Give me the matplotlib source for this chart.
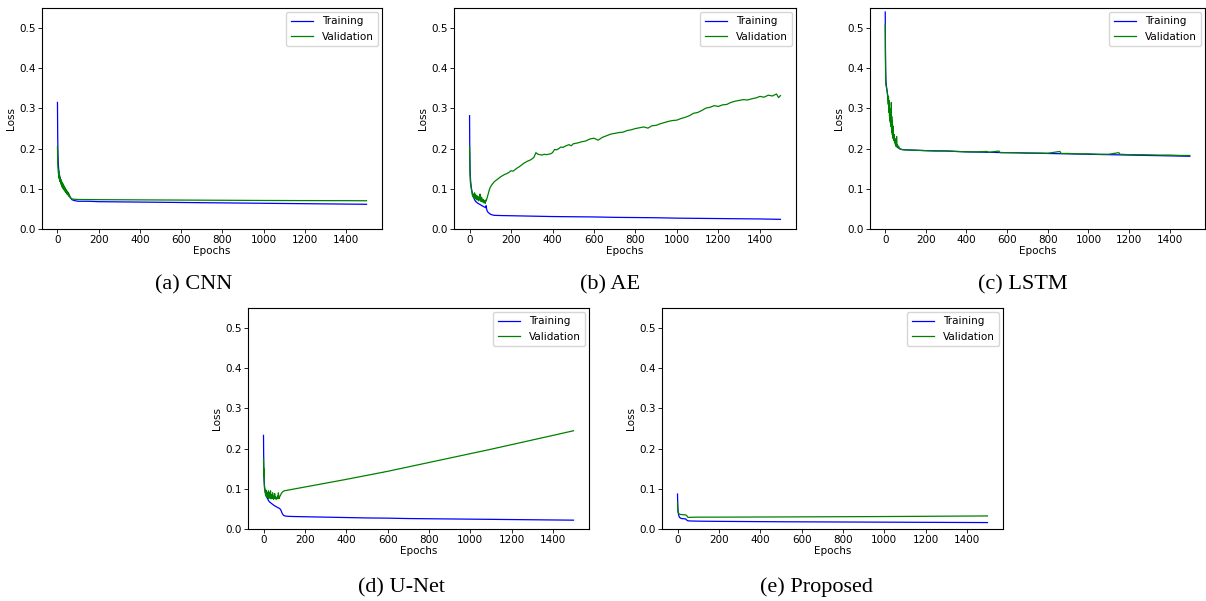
import matplotlib
matplotlib.use("Agg")
import matplotlib.pyplot as plt

# ---------------- data ----------------
# (a) CNN
cnn_train_ep = [0, 1, 2, 3, 4, 5, 6, 8, 10, 12, 15, 18, 20, 25, 30, 35, 40, 45, 50, 55, 60, 65, 70, 80, 90,
                100, 150, 200, 300, 400, 500, 600, 700, 800, 900, 1000, 1100, 1200, 1300, 1400, 1499]
cnn_train = [0.315, 0.24, 0.2, 0.18, 0.165, 0.155, 0.148, 0.14, 0.134, 0.13, 0.124, 0.118, 0.115, 0.108, 0.103,
             0.098, 0.094, 0.09, 0.087, 0.084, 0.081, 0.077, 0.073, 0.071, 0.070,
             0.069, 0.069, 0.068, 0.0675, 0.067, 0.0665, 0.066, 0.0655, 0.065, 0.0645, 0.064, 0.0635, 0.063,
             0.0625, 0.062, 0.0615]
cnn_val_ep = [0, 1, 2, 3, 4, 5, 6, 7, 8, 9, 10, 12, 14, 16, 18, 20, 22, 24, 26, 28, 30, 32, 34, 36, 38, 40,
              42, 44, 46, 48, 50, 52, 54, 56, 58, 60, 63, 66, 70, 75, 80, 90, 100, 200, 400, 600, 800, 1000,
              1200, 1400, 1499]
cnn_val = [0.205, 0.17, 0.155, 0.148, 0.142, 0.138,
           0.145, 0.128, 0.138, 0.124, 0.13, 0.118, 0.127, 0.112, 0.122, 0.107, 0.117, 0.103, 0.113, 0.1,
           0.109, 0.097, 0.105, 0.094, 0.102, 0.091, 0.098, 0.088, 0.095, 0.086, 0.092, 0.084, 0.089, 0.081,
           0.085, 0.079,
           0.077, 0.076, 0.075, 0.0745, 0.074, 0.0738, 0.0735, 0.073, 0.0725, 0.072, 0.0715, 0.071, 0.0707,
           0.0705, 0.0703]

# (b) AE
ae_train_ep = [0, 1, 2, 3, 5, 8, 10, 15, 20, 25, 30, 40, 50, 60, 70, 75, 78, 80, 82, 85, 90, 95, 100, 110,
               120, 150, 200, 300, 400, 500, 600, 700, 800, 900, 1000, 1100, 1200, 1300, 1400, 1499]
ae_train = [0.282, 0.2, 0.16, 0.14, 0.12, 0.105, 0.098, 0.085, 0.078, 0.072, 0.068, 0.064, 0.061, 0.058,
            0.055, 0.054, 0.053, 0.058, 0.05, 0.045, 0.041, 0.039, 0.037, 0.035,
            0.034, 0.0335, 0.033, 0.032, 0.031, 0.0305, 0.030, 0.029, 0.0285, 0.028, 0.027, 0.0265, 0.026,
            0.0255, 0.025, 0.024]
ae_val_ep = [0, 2, 4, 6, 8, 10, 12, 14, 16, 18, 20, 22, 24, 26, 28, 30, 32, 34, 36, 38, 40, 42, 44, 46, 48,
             50, 52, 54, 56, 58, 60, 62, 64, 66, 68, 70, 72, 74, 76, 78, 80, 85, 90, 95, 100, 110, 120, 130,
             140, 150, 160, 170, 180, 190, 200, 210, 220, 230, 240, 250, 260, 270, 280, 290, 300, 310, 320,
             330, 340, 350, 360, 370, 380, 390, 400, 410, 420, 430, 440, 450, 460, 470, 480, 490, 500, 520,
             540, 560, 580, 600, 620, 640, 660, 680, 700, 720, 740, 760, 780, 800, 820, 840, 860, 880, 900,
             920, 940, 960, 980, 1000, 1020, 1040, 1060, 1080, 1100, 1120, 1140, 1160, 1180, 1200, 1220,
             1240, 1260, 1280, 1300, 1320, 1340, 1360, 1380, 1400, 1420, 1440, 1460, 1480, 1490, 1499]
ae_val = [0.205, 0.14, 0.115, 0.108, 0.1, 0.095, 0.09, 0.083, 0.088, 0.079, 0.085, 0.077, 0.09, 0.08,
          0.086, 0.075, 0.084, 0.078, 0.072, 0.082, 0.074, 0.08, 0.07, 0.078, 0.073,
          0.087, 0.074, 0.076, 0.068, 0.079, 0.071, 0.07, 0.074, 0.066, 0.072, 0.065, 0.068, 0.07, 0.064,
          0.072, 0.07, 0.078, 0.088, 0.097, 0.104, 0.112, 0.118, 0.122,
          0.126, 0.13, 0.133, 0.136, 0.138, 0.141, 0.145, 0.144, 0.148, 0.152, 0.155, 0.159, 0.163, 0.166,
          0.169, 0.171, 0.174, 0.178, 0.19,
          0.186, 0.185, 0.184, 0.186, 0.185, 0.186, 0.187, 0.19, 0.198, 0.197, 0.2, 0.204, 0.203, 0.206,
          0.208, 0.21, 0.207, 0.212, 0.214,
          0.217, 0.219, 0.224, 0.226, 0.221, 0.228, 0.232, 0.236, 0.238, 0.24, 0.241, 0.245, 0.247, 0.25,
          0.252, 0.254, 0.251, 0.257, 0.258,
          0.262, 0.265, 0.268, 0.27, 0.271, 0.275, 0.278, 0.282, 0.288, 0.29, 0.295, 0.301, 0.303, 0.307,
          0.305, 0.309,
          0.31, 0.315, 0.318, 0.32, 0.322, 0.321, 0.324, 0.326, 0.33, 0.328, 0.333, 0.331, 0.336, 0.327,
          0.332]

# (c) LSTM
lstm_train_ep = [0, 1, 2, 3, 4, 5, 7, 10, 15, 20, 25, 30, 35, 40, 45, 50, 55, 60, 70, 80, 100, 150, 200,
                 300, 400, 500, 600, 700, 800, 900, 1000, 1100, 1200, 1300, 1400, 1499]
lstm_train = [0.54, 0.45, 0.4, 0.375, 0.365, 0.36, 0.35, 0.34, 0.32, 0.3, 0.28, 0.265, 0.25, 0.235, 0.222,
              0.213, 0.207, 0.203, 0.2, 0.198, 0.197, 0.196, 0.195, 0.194, 0.192, 0.191, 0.19, 0.189,
              0.188, 0.187, 0.186, 0.185, 0.184, 0.183, 0.182, 0.181]
lstm_val_ep = [0, 1, 2, 3, 5, 7, 9, 11, 13, 15, 16, 17, 18, 19, 20, 21, 22, 23, 24, 25, 26, 27, 28, 29, 30,
               31, 32, 33, 34, 35, 36, 37, 38, 39, 40, 42, 44, 46, 48, 50, 52, 54, 56, 58, 60, 63, 66, 70,
               75, 80, 90, 100, 150, 200, 250, 300, 350, 400, 450, 500, 510, 560, 565, 600, 650, 700, 750,
               800, 860, 865, 900, 960, 1000, 1050, 1100, 1150, 1155, 1200, 1250, 1300, 1350, 1400, 1450,
               1499]
lstm_val = [0.51, 0.42, 0.38, 0.36, 0.355, 0.35, 0.345, 0.335, 0.33, 0.31, 0.33, 0.295, 0.32, 0.29, 0.31,
            0.28, 0.3, 0.27, 0.29, 0.265, 0.28, 0.26, 0.275, 0.255, 0.315,
            0.25, 0.28, 0.24, 0.27, 0.235, 0.26, 0.23, 0.255, 0.225, 0.24, 0.22, 0.235, 0.215, 0.225, 0.21,
            0.22, 0.205, 0.23, 0.205, 0.21, 0.203, 0.206, 0.2,
            0.199, 0.198, 0.197, 0.197, 0.196, 0.195, 0.194, 0.1945, 0.193, 0.192, 0.192, 0.193, 0.191,
            0.194, 0.19, 0.19, 0.19, 0.189, 0.189,
            0.1885, 0.193, 0.188, 0.188, 0.187, 0.187, 0.186, 0.186, 0.19, 0.186, 0.185, 0.185, 0.1845,
            0.184, 0.184, 0.183,
            0.183]

# (d) U-Net
unet_train_ep = [0, 1, 2, 3, 5, 8, 12, 16, 20, 25, 30, 40, 50, 60, 70, 75, 80, 85, 90, 95, 100, 110, 120,
                 150, 200, 300, 400, 500, 600, 700, 800, 900, 1000, 1100, 1200, 1300, 1400, 1499]
unet_train = [0.233, 0.17, 0.14, 0.12, 0.105, 0.095, 0.085, 0.079, 0.075, 0.07, 0.067, 0.063, 0.059, 0.056,
              0.053, 0.052, 0.05, 0.046, 0.039, 0.035, 0.033, 0.032, 0.0315,
              0.031, 0.0305, 0.0295, 0.0285, 0.0275, 0.027, 0.026, 0.0255, 0.025, 0.0245, 0.024, 0.0235,
              0.023, 0.0225, 0.022]
unet_val_ep = [0, 1, 2, 3, 4, 5, 6,
               8, 10, 12, 14, 16, 18, 20, 22, 24, 26, 28, 30, 32, 34, 36, 38, 40, 42, 44, 46, 48, 50, 52,
               54, 56, 58, 60, 62, 64, 66, 68, 70, 72, 74, 76, 78, 80,
               84, 88, 92, 96, 100,
               200, 300, 400, 500, 600, 700, 800, 900, 1000, 1100, 1200, 1300, 1400, 1499]
unet_val = [0.175, 0.13, 0.15, 0.125, 0.11, 0.1, 0.095,
            0.09, 0.085, 0.097, 0.08, 0.092, 0.078, 0.088, 0.082, 0.095, 0.076, 0.09, 0.08, 0.078, 0.095,
            0.075, 0.085, 0.08, 0.076, 0.09, 0.078, 0.074, 0.082, 0.076, 0.088, 0.075, 0.08, 0.077, 0.074,
            0.079, 0.076, 0.082, 0.075, 0.09, 0.078, 0.076, 0.08, 0.082,
            0.086, 0.09, 0.092, 0.094, 0.095,
            0.1045, 0.114, 0.1235, 0.1335, 0.1435, 0.1545, 0.1655, 0.1765, 0.1875, 0.1985, 0.21, 0.2215,
            0.233, 0.2445]

# (e) Proposed
prop_train_ep = [0, 1, 2, 3, 5, 7, 10, 15, 20, 30, 40, 45, 50, 60, 100, 200, 500, 1000, 1499]
prop_train = [0.087, 0.065, 0.05, 0.042, 0.036, 0.032, 0.029, 0.027, 0.026, 0.0255, 0.025, 0.022, 0.0205,
              0.02, 0.0195, 0.019, 0.018, 0.017, 0.016]
prop_val_ep = [0, 1, 2, 3, 5, 7, 10, 15, 20, 30, 40, 45, 50, 60, 100, 200, 500, 1000, 1499]
prop_val = [0.065, 0.05, 0.045, 0.042, 0.04, 0.038, 0.037, 0.036, 0.036, 0.0355, 0.035, 0.033, 0.029,
            0.029, 0.0295, 0.0295, 0.030, 0.031, 0.0325]

captions = ["(a) CNN", "(b) AE", "(c) LSTM", "(d) U-Net", "(e) Proposed"]
series = [
    (cnn_train_ep, cnn_train, cnn_val_ep, cnn_val),
    (ae_train_ep, ae_train, ae_val_ep, ae_val),
    (lstm_train_ep, lstm_train, lstm_val_ep, lstm_val),
    (unet_train_ep, unet_train, unet_val_ep, unet_val),
    (prop_train_ep, prop_train, prop_val_ep, prop_val),
]
x_ticks = [0, 200, 400, 600, 800, 1000, 1200, 1400]
y_ticks = [0.0, 0.1, 0.2, 0.3, 0.4, 0.5]

# ---------------- layout ----------------
W, H = 1206, 601
fig = plt.figure(figsize=(W / 100, H / 100), dpi=100)

# axes boxes in pixels: left, top, right, bottom
boxes = [
    (42, 8, 382, 229),
    (454, 8, 796, 229),
    (870, 8, 1205, 229),
    (248, 308, 589, 529),
    (662, 308, 1003, 529),
]
cap_pos = [(194, 289), (610, 289), (1023, 289), (402, 592), (816, 592)]

fs = 7.5
for (l, t, r, b), (tx, tv, vx, vv), cap, (cx, cy) in zip(boxes, series, captions, cap_pos):
    ax = fig.add_axes([l / W, 1 - b / H, (r - l) / W, (b - t) / H])
    ax.plot(tx, tv, color="blue", lw=0.9, label="Training")
    ax.plot(vx, vv, color="green", lw=0.9, label="Validation")
    ax.set_ylim(0, 0.55)
    ax.set_xlim(-75, 1574)
    ax.set_xticks(x_ticks)
    ax.set_yticks(y_ticks)
    ax.tick_params(labelsize=fs, length=2.6, width=0.6, pad=2)
    ax.set_xlabel("Epochs", fontsize=fs, labelpad=0.5)
    ax.set_ylabel("Loss", fontsize=fs, labelpad=2)
    for s in ax.spines.values():
        s.set_linewidth(0.8)
    ax.legend(loc="upper right", fontsize=fs, handlelength=2.2, borderaxespad=0.4)
    fig.text(cx / W, 1 - cy / H, cap, family="Liberation Serif", fontsize=16,
             ha="center", va="baseline")

fig.savefig("out.png", dpi=100)
